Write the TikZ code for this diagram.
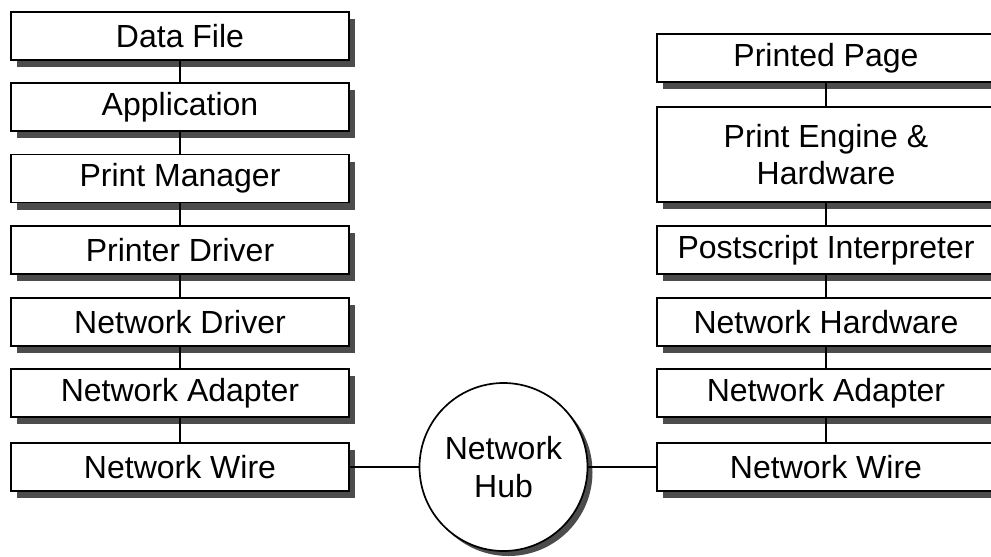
\documentclass[tikz,border=0pt]{standalone}
\usepackage{fontspec}
\setmainfont{Liberation Sans}
\usetikzlibrary{shadows}
\begin{document}
\begin{tikzpicture}[x=1pt, y=-1pt,
  every node/.style={font=\fontsize{32}{37}\selectfont},
  layerbox/.style={draw, line width=1.7pt, fill=white, minimum width=338pt,
    minimum height=48pt, inner sep=0pt, align=center,
    drop shadow={shadow xshift=6pt, shadow yshift=-7pt, fill=black!70, opacity=1}},
  hub/.style={draw, circle, line width=1.7pt, fill=white, minimum size=168pt,
    inner sep=0pt, align=center,
    drop shadow={shadow xshift=5pt, shadow yshift=-5pt, fill=black!70, opacity=1}},
  link/.style={line width=1.7pt}]
\useasboundingbox (0,0) rectangle (991,557);
\clip (0,0) rectangle (991,557);

% sending computer stack
\node[layerbox] (datafile) at (180,36)  {Data File};
\node[layerbox] (app)      at (180,107) {Application};
\node[layerbox] (pmgr)     at (180,178.5) {Print Manager};
\node[layerbox] (pdrv)     at (180,250) {Printer Driver};
\node[layerbox] (ndrv)     at (180,322) {Network Driver};
\node[layerbox] (ladapt)   at (180,393) {Network Adapter};
\node[layerbox] (lwire)    at (180,467) {Network Wire};

% printer stack
\node[layerbox] (page)     at (826,58)  {Printed Page};
\node[layerbox, minimum height=95pt] (engine) at (826,154.5) {Print Engine \&\\Hardware};
\node[layerbox] (ps)       at (826,250) {Postscript Interpreter};
\node[layerbox] (nhw)      at (826,322) {Network Hardware};
\node[layerbox] (radapt)   at (826,393) {Network Adapter};
\node[layerbox] (rwire)    at (826,467) {Network Wire};

% hub
\node[hub, font=\fontsize{32}{38}\selectfont] (hubnode) at (503.5,467) {Network\\Hub};

% vertical links
\draw[link] (datafile) -- (app);
\draw[link] (app) -- (pmgr);
\draw[link] (pmgr) -- (pdrv);
\draw[link] (pdrv) -- (ndrv);
\draw[link] (ndrv) -- (ladapt);
\draw[link] (ladapt) -- (lwire);
\draw[link] (page) -- (engine);
\draw[link] (engine) -- (ps);
\draw[link] (ps) -- (nhw);
\draw[link] (nhw) -- (radapt);
\draw[link] (radapt) -- (rwire);

% wire to hub
\draw[link] (lwire) -- (hubnode);
\draw[link] (hubnode) -- (rwire);
\end{tikzpicture}
\end{document}
